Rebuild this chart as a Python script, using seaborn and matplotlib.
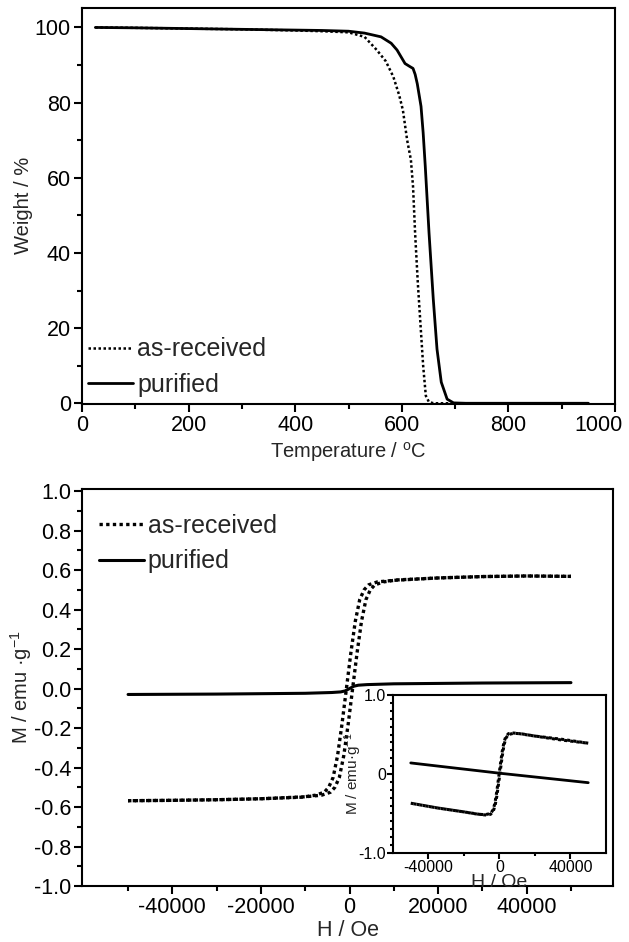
import matplotlib
matplotlib.use("Agg")
import matplotlib.pyplot as plt
import matplotlib.transforms as mtransforms
import seaborn as sns
from matplotlib.ticker import MultipleLocator, FixedLocator, FormatStrFormatter
from matplotlib.lines import Line2D

# TGA, as-received (dotted) and purified (solid)
T_asr = [25, 100, 200, 300, 400, 450, 500, 530, 553, 570, 584, 595, 602, 610, 617, 621,
         625, 630, 636, 640, 645, 651, 660, 680, 700]
W_asr = [100, 99.9, 99.7, 99.5, 99.2, 99.0, 98.7, 97.5, 94, 91, 86.9, 82, 78, 70, 64.8, 57.7,
         45, 32, 18.8, 10, 2, 0.3, 0, 0, 0]
T_pur = [25, 100, 200, 300, 400, 450, 500, 530, 561, 580, 591, 606, 615, 621, 625, 629, 636,
         640, 644, 651, 659, 666, 674, 685, 697, 720, 800, 900, 950]
W_pur = [100, 99.9, 99.7, 99.5, 99.3, 99.2, 99.0, 98.5, 97.5, 95.8, 94, 90.4, 89.6, 89.1, 87.5,
         85, 79, 72, 63, 45.4, 27.7, 14.4, 5.6, 1.1, 0.1, 0, 0, 0, 0]
T_ticks = [0, 200, 400, 600, 800, 1000]

# M-H loops, main panel
H_asr_up = [-50000, -40000, -30000, -20000, -10000, -6300, -4300, -3300, -2300, -1300, -300, 700,
            1700, 2700, 3700, 4700, 5700, 7700, 10700, 20000, 30000, 40000, 50000]
M_asr_up = [-0.568, -0.566, -0.563, -0.558, -0.548, -0.54, -0.525, -0.50, -0.45, -0.34, -0.18, 0.0,
            0.18, 0.34, 0.45, 0.50, 0.525, 0.54, 0.55, 0.56, 0.567, 0.57, 0.568]
H_asr_dn = [50000, 40000, 30000, 20000, 10000, 6300, 4300, 3300, 2300, 1300, 300, -700,
            -1700, -2700, -3700, -4700, -5700, -7700, -10700, -20000, -30000, -40000, -50000]
M_asr_dn = [0.568, 0.57, 0.567, 0.56, 0.548, 0.54, 0.525, 0.50, 0.45, 0.34, 0.18, 0.0,
            -0.18, -0.34, -0.45, -0.50, -0.525, -0.54, -0.55, -0.558, -0.563, -0.566, -0.568]
H_pur = [-50000, -30000, -10000, -4000, -2000, -1000, 0, 1000, 2000, 4000, 10000, 30000, 50000]
M_pur = [-0.03, -0.028, -0.024, -0.02, -0.017, -0.012, 0.0, 0.012, 0.017, 0.02, 0.024, 0.028, 0.03]

# inset loops
Hi_dn = [50000, 35000, 20000, 10000, 7000, 5000, 3500, 2500, 1500, 500, -500, -1500, -2500,
         -3500, -5000, -8000, -12000, -20000, -35000, -50000]
Mi_dn = [0.39, 0.44, 0.48, 0.515, 0.52, 0.51, 0.47, 0.40, 0.28, 0.12, -0.05, -0.22, -0.36,
         -0.45, -0.50, -0.515, -0.51, -0.48, -0.43, -0.37]
Hi_up = [-50000, -35000, -20000, -10000, -7000, -5000, -3500, -2500, -1500, -500, 500, 1500,
         2500, 3500, 5000, 8000, 12000, 20000, 35000, 50000]
Mi_up = [-0.37, -0.43, -0.48, -0.515, -0.52, -0.51, -0.47, -0.40, -0.28, -0.12, 0.05, 0.22,
         0.36, 0.45, 0.50, 0.515, 0.51, 0.48, 0.43, 0.39]
Hi_pur = [-50000, -25000, 0, 25000, 50000]
Mi_pur = [0.14, 0.075, 0.01, -0.05, -0.11]

sns.set_style("ticks")
plt.rcParams['font.family'] = ['Liberation Sans', 'DejaVu Sans']
plt.rcParams['mathtext.default'] = 'regular'
plt.rcParams['axes.unicode_minus'] = False

fig = plt.figure(figsize=(6.29, 9.42), dpi=100)
ax1 = fig.add_axes([0.1304, 0.5711, 0.8474, 0.4209])
ax2 = fig.add_axes([0.1304, 0.0594, 0.8442, 0.4214])
ax3 = fig.add_axes([0.6248, 0.0945, 0.3386, 0.1677])

dots = (0, (1, 1))


def style_axes(ax, lw=1.5, size=15.5, major=6, minor=3.5, pad=2):
    for s in ax.spines.values():
        s.set_linewidth(lw)
        s.set_color("black")
        s.set_visible(True)
    ax.tick_params(which="both", direction="out", width=lw, top=False, right=False,
                   labelsize=size, colors="black", pad=pad)
    ax.tick_params(which="major", length=major)
    ax.tick_params(which="minor", length=minor)


# --- top: TGA
sns.lineplot(x=T_asr, y=W_asr, ax=ax1, color="black", lw=1.8, linestyle=dots,
             sort=False, estimator=None)
sns.lineplot(x=T_pur, y=W_pur, ax=ax1, color="black", lw=2.0, sort=False, estimator=None)
ax1.set_xlim(0, 1000)
ax1.set_ylim(-0.2, 105.3)
ax1.set_xticks(T_ticks, [str(t) for t in T_ticks])
ax1.xaxis.set_minor_locator(MultipleLocator(100))
ax1.yaxis.set_major_locator(MultipleLocator(20))
ax1.yaxis.set_minor_locator(MultipleLocator(10))
style_axes(ax1)
ax1.set_xlabel(r"Temperature / $^{o}$C", fontsize=14.5, labelpad=3)
ax1.set_ylabel("Weight / %", fontsize=14.5, labelpad=1)

handles = [Line2D([], [], color="black", lw=1.8, linestyle=dots),
           Line2D([], [], color="black", lw=2.0)]
ax1.legend(handles, ["as-received", "purified"], loc="upper left", bbox_to_anchor=(0.012, 0.168),
           frameon=False, fontsize=18, handlelength=1.8, handletextpad=0.15,
           borderpad=0, borderaxespad=0, labelspacing=0.45)

# --- bottom: M-H
sns.lineplot(x=H_asr_up, y=M_asr_up, ax=ax2, color="black", lw=2.4, linestyle=dots,
             sort=False, estimator=None)
sns.lineplot(x=H_asr_dn, y=M_asr_dn, ax=ax2, color="black", lw=2.4, linestyle=dots,
             sort=False, estimator=None)
sns.lineplot(x=H_pur, y=M_pur, ax=ax2, color="black", lw=2.2, sort=False, estimator=None)
ax2.set_xlim(-60400, 59500)
ax2.set_ylim(-1.0, 1.01)
ax2.xaxis.set_major_locator(FixedLocator([-40000, -20000, 0, 20000, 40000]))
ax2.xaxis.set_minor_locator(FixedLocator([-50000, -30000, -10000, 10000, 30000, 50000]))
ax2.yaxis.set_major_locator(MultipleLocator(0.2))
ax2.yaxis.set_minor_locator(MultipleLocator(0.1))
ax2.yaxis.set_major_formatter(FormatStrFormatter("%.1f"))
style_axes(ax2)
ax2.set_xlabel("H / Oe", fontsize=15.5, labelpad=1)
ax2.set_ylabel("M / emu ·g$^{-1}$", fontsize=14.5, labelpad=0)

handles2 = [Line2D([], [], color="black", lw=2.4, linestyle=dots),
            Line2D([], [], color="black", lw=2.2)]
ax2.legend(handles2, ["as-received", "purified"], loc="upper left", bbox_to_anchor=(0.032, 0.937),
           frameon=False, fontsize=18, handlelength=1.8, handletextpad=0.15,
           borderpad=0, borderaxespad=0, labelspacing=0.45)

# --- inset
ax3.set_facecolor("white")
sns.lineplot(x=Hi_dn, y=Mi_dn, ax=ax3, color="black", lw=2.2, linestyle=dots,
             sort=False, estimator=None)
sns.lineplot(x=Hi_up, y=Mi_up, ax=ax3, color="black", lw=2.2, linestyle=dots,
             sort=False, estimator=None)
sns.lineplot(x=Hi_pur, y=Mi_pur, ax=ax3, color="black", lw=2.0, sort=False, estimator=None)
ax3.set_xlim(-60000, 60000)
ax3.set_ylim(-1.0, 1.0)
ax3.xaxis.set_major_locator(FixedLocator([-40000, 0, 40000]))
ax3.xaxis.set_minor_locator(FixedLocator([-20000, 20000]))
ax3.yaxis.set_major_locator(FixedLocator([-1.0, 0, 1.0]))
ax3.yaxis.set_minor_locator(MultipleLocator(0.1))
ax3.set_yticklabels(["-1.0", "0", "1.0"])
style_axes(ax3, lw=1.5, size=11.5, major=4, minor=2, pad=1)
ax3.set_xlabel("H / Oe", fontsize=14, labelpad=-1)
ax3.set_ylabel("M / emu·g$^{-1}$", fontsize=11, labelpad=-4)

# keep the "1000" label inside the figure, as in the reference
for lab in ax1.get_xticklabels():
    if lab.get_text() == "1000":
        lab.set_horizontalalignment("right")
        lab.set_transform(lab.get_transform()
                          + mtransforms.ScaledTranslation(0.08, 0, fig.dpi_scale_trans))

fig.savefig("out.png", dpi=100)
